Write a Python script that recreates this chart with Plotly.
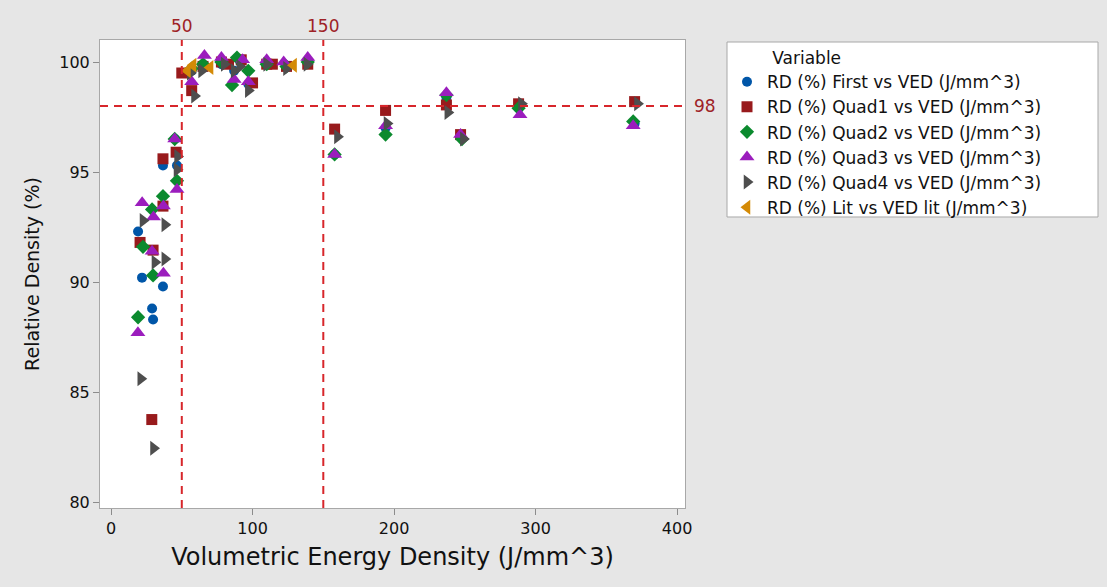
import plotly.graph_objects as go

# ---- data ----
first_x = [19.1, 21.9, 29.0, 29.7, 36.7, 36.7, 45.2, 46.6, 57, 65, 78, 87, 92, 97, 110, 124, 139, 158, 194, 237, 247, 288, 370]
first_y = [92.3, 90.2, 88.8, 88.3, 95.3, 89.8, 96.5, 95.3, 99.6, 99.9, 99.9, 99.6, 100.0, 99.0, 99.9, 99.8, 99.9, 95.8, 97.0, 98.4, 96.6, 97.9, 97.2]

quad1_x = [20.5, 28.8, 29.7, 36.7, 36.7, 46.0, 50.0, 57.0, 65, 78, 83, 92, 100, 110, 114, 124, 139, 158, 194, 237, 247, 288, 370]
quad1_y = [91.8, 83.75, 91.45, 95.6, 93.45, 95.9, 99.5, 98.7, 99.8, 100.0, 99.9, 100.1, 99.05, 99.9, 99.9, 99.8, 99.9, 96.95, 97.8, 98.05, 96.7, 98.1, 98.2]

quad2_x = [19.1, 22.6, 29.0, 29.7, 36.7, 45.0, 46.6, 57, 65, 78, 85.5, 89, 97, 110, 124, 139, 158, 194, 237, 248, 288, 369]
quad2_y = [88.4, 91.6, 93.3, 90.3, 93.9, 96.5, 94.6, 99.7, 99.9, 100.0, 98.95, 100.2, 99.6, 99.9, 99.8, 100.0, 95.8, 96.7, 98.5, 96.5, 97.9, 97.3]

quad3_x = [19.0, 22.0, 29.0, 30.0, 37.0, 37.0, 45.0, 46.6, 57, 66, 78, 87, 93, 97, 110, 122, 139, 158, 194, 237, 247, 289, 369]
quad3_y = [87.7, 93.6, 91.4, 92.95, 93.45, 90.4, 96.5, 94.2, 99.1, 100.3, 100.2, 99.2, 100.1, 99.1, 100.1, 100.0, 100.2, 95.8, 97.1, 98.6, 96.7, 97.6, 97.1]

quad4_x = [21.0, 22.6, 30.0, 31.0, 38.0, 38.0, 46.6, 47.0, 56, 59, 64, 80, 87, 91, 97, 110, 124, 138.5, 160, 195, 238, 249, 290, 372]
quad4_y = [85.6, 92.8, 82.45, 90.9, 92.6, 91.05, 95.1, 95.7, 99.5, 98.45, 99.6, 99.9, 99.6, 99.8, 98.7, 99.9, 99.7, 99.9, 96.6, 97.2, 97.7, 96.5, 98.1, 98.1]

lit_x = [54, 58, 70, 129]
lit_y = [99.6, 99.85, 99.75, 99.85]

x_ticks = [0, 100, 200, 300, 400]
y_ticks = [80, 85, 90, 95, 100]
ref_x = [50, 150]
ref_y = 98

FONT = "DejaVu Sans"
TXT = "#111111"
REFRED = "#D7262B"
LABRED = "#9E2226"

series = [
    ("RD (%) First vs VED (J/mm^3)", first_x, first_y, "#0056A8", "circle", 10),
    ("RD (%) Quad1 vs VED (J/mm^3)", quad1_x, quad1_y, "#981A1C", "square", 11),
    ("RD (%) Quad2 vs VED (J/mm^3)", quad2_x, quad2_y, "#0B8A2E", "diamond", 11),
    ("RD (%) Quad3 vs VED (J/mm^3)", quad3_x, quad3_y, "#9B1DBD", "triangle-up", 13),
    ("RD (%) Quad4 vs VED (J/mm^3)", quad4_x, quad4_y, "#4E4E4E", "triangle-right", 13),
    ("RD (%) Lit vs VED lit (J/mm^3)", lit_x, lit_y, "#D48A06", "triangle-left", 13),
]

fig = go.Figure()
for name, xs, ys, col, sym, sz in series:
    fig.add_trace(go.Scatter(
        x=xs, y=ys, mode="markers", name=name,
        marker=dict(color=col, symbol=sym, size=sz, line=dict(width=0)),
    ))

shapes = []
for xv in ref_x:
    shapes.append(dict(type="line", xref="x", yref="paper", x0=xv, x1=xv, y0=0, y1=1,
                       line=dict(color=REFRED, width=2, dash="8px,6px")))
shapes.append(dict(type="line", xref="paper", yref="y", x0=0, x1=0.995, y0=ref_y, y1=ref_y,
                   line=dict(color=REFRED, width=2, dash="8px,6px")))
# legend box (drawn behind the transparent legend)
shapes.append(dict(type="rect", xref="paper", yref="paper", x0=1.0718, x1=1.706, y0=0.6218, y1=0.9957,
                   fillcolor="white", line=dict(color="#A8A8A8", width=1), layer="below"))

annotations = []
for xv in ref_x:
    annotations.append(dict(x=xv, y=1.03, xref="x", yref="paper", text=str(xv), showarrow=False,
                            font=dict(family=FONT, size=17, color=LABRED), xanchor="center", yanchor="middle"))
annotations.append(dict(x=1.034, y=ref_y, xref="paper", yref="y", text=str(ref_y), showarrow=False,
                        font=dict(family=FONT, size=17, color=LABRED), xanchor="center", yanchor="middle"))

fig.update_layout(
    width=1107, height=587,
    margin=dict(l=100, r=422, t=40, b=79),
    paper_bgcolor="#E6E6E6",
    plot_bgcolor="white",
    font=dict(family=FONT, color=TXT),
    shapes=shapes,
    annotations=annotations,
    showlegend=True,
    legend=dict(
        x=1.0718, y=0.9957, xanchor="left", yanchor="top",
        bgcolor="rgba(0,0,0,0)", borderwidth=0,
        font=dict(family=FONT, size=17, color=TXT),
        title=dict(text="\u00a0\u00a0\u00a0\u00a0\u00a0\u00a0\u00a0\u00a0Variable", font=dict(family=FONT, size=17, color=TXT)),
        tracegroupgap=0,
    ),
)
fig.update_xaxes(
    range=[-7.8, 405.6], tickvals=x_ticks, ticks="outside", ticklen=6, tickcolor="#8C8C8C",
    showline=True, linecolor="#A8A8A8", linewidth=1, mirror=True, showgrid=False, zeroline=False,
    tickfont=dict(family=FONT, size=16, color=TXT),
    title=dict(text="Volumetric Energy Density (J/mm^3)", font=dict(family=FONT, size=24, color=TXT), standoff=10),
)
fig.update_yaxes(
    range=[79.73, 101.0], tickvals=y_ticks, ticks="outside", ticklen=6, tickcolor="#8C8C8C",
    showline=True, linecolor="#A8A8A8", linewidth=1, mirror=True, showgrid=False, zeroline=False,
    tickfont=dict(family=FONT, size=16, color=TXT),
    title=dict(text="Relative Density (%)", font=dict(family=FONT, size=19, color=TXT), standoff=14),
)

fig.write_html("out.html", config={"displayModeBar": False},
               post_script="document.body.style.margin='0';")
